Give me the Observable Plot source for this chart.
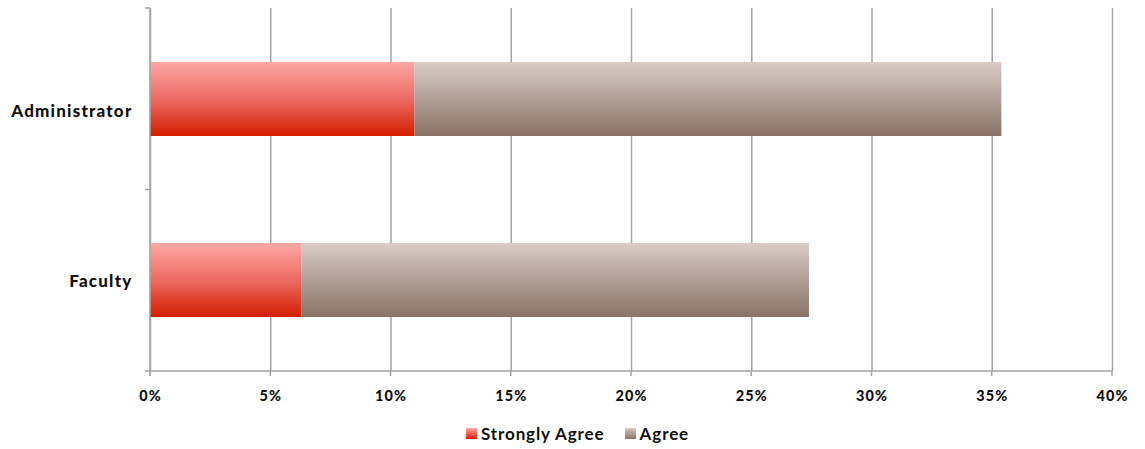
<!DOCTYPE html>
<html>
<head>
<meta charset="utf-8">
<script src="https://cdn.jsdelivr.net/npm/d3@7"></script>
<script src="https://cdn.jsdelivr.net/npm/@observablehq/plot@0.6"></script>
<style>
  html, body { margin: 0; padding: 0; background: #fff; }
  #chart { width: 1145px; }
  .legend { display: flex; justify-content: center; align-items: center; gap: 20px; font-family: Lato, "Open Sans", sans-serif; font-weight: bold; font-size: 17px; letter-spacing: 0.9px; color: #111; margin-top: 13px; padding-left: 10px; }
  .legend span.item { display: inline-flex; align-items: center; gap: 4px; }
  .legend i { display: inline-block; width: 11px; height: 11px; }
  g[aria-label="y-axis tick label"] text { letter-spacing: 1.2px; font-weight: 900; }
  g[aria-label="x-axis tick label"] text { letter-spacing: 1px; font-weight: 900; }
</style>
</head>
<body>
<div id="chart"></div>
<script>
const categories = ["Administrator", "Faculty"];
const responses = ["Strongly Agree", "Agree"];
const stronglyAgree = [11.0, 6.3];
const agree = [24.4, 21.1];
const xTicks = [0, 5, 10, 15, 20, 25, 30, 35, 40];

const data = categories.flatMap((c, i) => [
  {category: c, response: "Strongly Agree", value: stronglyAgree[i]},
  {category: c, response: "Agree", value: agree[i]}
]);

const gridColor = "#a3a3a3";

function axesMark(index, scales, values, dimensions) {
  const {height, marginTop, marginBottom, marginLeft} = dimensions;
  const g = d3.create("svg:g");
  const bottom = height - marginBottom;
  const n = categories.length;
  const step = (bottom - marginTop) / n;
  g.append("line").attr("x1", marginLeft).attr("x2", marginLeft).attr("y1", marginTop).attr("y2", bottom + 5)
    .attr("stroke", gridColor).attr("stroke-width", 1.5);
  for (let i = 0; i <= n; i++) {
    const y = marginTop + i * step;
    g.append("line").attr("x1", marginLeft - 5).attr("x2", marginLeft).attr("y1", y).attr("y2", y)
      .attr("stroke", gridColor).attr("stroke-width", 1.5);
  }
  g.append("line").attr("x1", marginLeft).attr("x2", scales.x(xTicks[xTicks.length - 1])).attr("y1", bottom).attr("y2", bottom)
    .attr("stroke", gridColor).attr("stroke-width", 1.5);
  for (const t of xTicks) {
    const x = scales.x(t);
    g.append("line").attr("x1", x).attr("x2", x).attr("y1", bottom).attr("y2", bottom + 5)
      .attr("stroke", gridColor).attr("stroke-width", 1.5);
  }
  return g.node();
}

const labelStyle = {tickSize: 0, tickPadding: 18, fontSize: 17, fontWeight: "bold", fill: "#111"};

const plot = Plot.plot({
  width: 1145,
  height: 410,
  marginLeft: 150,
  marginRight: 33,
  marginTop: 8,
  marginBottom: 39,
  style: {fontFamily: "Lato, 'Open Sans', sans-serif", fontWeight: "bold", color: "#111", background: "#fff"},
  x: {domain: [0, 40], label: null},
  y: {domain: categories, paddingInner: 0.592, paddingOuter: 0.296, label: null},
  color: {domain: responses, range: ["url(#gSA)", "url(#gAg)"]},
  marks: [
    Plot.gridX(xTicks, {stroke: gridColor, strokeOpacity: 1, strokeWidth: 1.5}),
    Plot.barX(data, {x: "value", y: "category", fill: "response", style: {filter: "url(#shadow)"}}),
    axesMark,
    Plot.axisX(xTicks, {tickSize: 0, tickPadding: 19, tickFormat: d => d + "%", fontSize: 14.5, fontWeight: "bold", fill: "#111"}),
    Plot.axisY([categories[0]], {...labelStyle, dy: 12}),
    Plot.axisY([categories[1]], {...labelStyle, dy: 1})
  ]
});

plot.insertAdjacentHTML("afterbegin", `
<defs>
  <linearGradient id="gSA" x1="0" y1="0" x2="0" y2="1">
    <stop offset="0" stop-color="#ffa8a6"/>
    <stop offset="0.5" stop-color="#ec6b63"/>
    <stop offset="1" stop-color="#d41e00"/>
  </linearGradient>
  <linearGradient id="gAg" x1="0" y1="0" x2="0" y2="1">
    <stop offset="0" stop-color="#d9ccc6"/>
    <stop offset="0.5" stop-color="#b09f96"/>
    <stop offset="1" stop-color="#8a7265"/>
  </linearGradient>
  <filter id="shadow" x="-5%" y="-10%" width="110%" height="130%">
    <feDropShadow dx="1.5" dy="2" stdDeviation="1.5" flood-color="#000" flood-opacity="0.2"/>
  </filter>
</defs>`);

document.getElementById("chart").appendChild(plot);

const legend = d3.select("#chart").append("div").attr("class", "legend");
const grads = {"Strongly Agree": "linear-gradient(#ffa8a6, #d41e00)", "Agree": "linear-gradient(#d9ccc6, #8a7265)"};
for (const r of responses) {
  const item = legend.append("span").attr("class", "item");
  item.append("i").style("background", grads[r]);
  item.append("span").text(r);
}
</script>
</body>
</html>
